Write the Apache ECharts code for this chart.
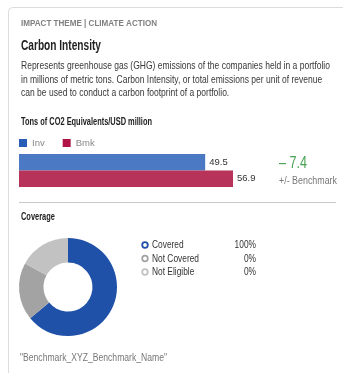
<!DOCTYPE html>
<html>
<head>
<meta charset="utf-8">
<script src="https://cdn.jsdelivr.net/npm/echarts@6/dist/echarts.min.js"></script>
<style>
html,body{margin:0;padding:0;background:#fff;}
#c{width:343px;height:373px;}
</style>
</head>
<body>
<div id="c"></div>
<script>
// ---- data ----
const themeLabel = 'IMPACT THEME | CLIMATE ACTION';
const chartTitle = 'Carbon Intensity';
const descLines = [
  'Represents greenhouse gas (GHG) emissions of the companies held in a portfolio',
  'in millions of metric tons. Carbon Intensity, or total emissions per unit of revenue',
  'can be used to conduct a carbon footprint of a portfolio.'
];
const unitLabel = 'Tons of CO2 Equivalents/USD million';
const barNames = ['Inv', 'Bmk'];
const barValues = [49.5, 56.9];
const diffLabel = '+/- Benchmark';
const coverageTitle = 'Coverage';
const coverageNames = ['Covered', 'Not Covered', 'Not Eligible'];
const coveragePct = ['100%', '0%', '0%'];
const donutValues = [64, 19, 17];
const benchmarkName = '"Benchmark_XYZ_Benchmark_Name"';

// ---- styles ----
const FONT = '"Liberation Sans", Arial, sans-serif';
const barColors = ['#4b79c3', '#b7335a'];
const legendColors = ['#2a5bb5', '#b01446'];
const donutColors = ['#2051a8', '#a3a3a3', '#c2c2c2'];

// condensed look: horizontally scale text to the reference's narrow face
const mctx = document.createElement('canvas').getContext('2d');
function fit(text, font, target) { mctx.font = font; return target / mctx.measureText(text).width; }
function txt(x, y, text, font, fill, sx, extra) {
  return {type:'text', x:x, y:y, originX:0, originY:0, scaleX:sx, scaleY:1,
    style:Object.assign({text:text, font:font, fill:fill, textVerticalAlign:'middle'}, extra || {})};
}

const diff = barValues[0] - barValues[1];
const diffText = (diff < 0 ? '\u2013 ' : '+ ') + Math.abs(diff).toFixed(1);

const fHead = 'bold 8.5px ' + FONT;
const fTitle = 'bold 15px ' + FONT;
const fDesc = '11.5px ' + FONT;
const fSub = 'bold 11.5px ' + FONT;
const fSmall = '11px ' + FONT;
const fBig = '17px ' + FONT;
const sDesc = fit(descLines[0], fDesc, 309);
const sSub = fit(unitLabel, fSub, 131);
const sSmall = fit('Not Covered', fSmall, 47);

const graphics = [
  {type:'rect', shape:{x:8.5, y:7.5, width:400, height:420, r:4}, style:{fill:'#fff', stroke:'#dcdcdc', lineWidth:1}, z:-10},
  txt(21, 24, themeLabel, fHead, '#808080', fit(themeLabel, fHead, 136)),
  txt(21, 46, chartTitle, fTitle, '#222', fit(chartTitle, fTitle, 80)),
  txt(21, 122, unitLabel, fSub, '#222', sSub),
  {type:'line', shape:{x1:19, y1:202.5, x2:336, y2:202.5}, style:{stroke:'#c8c8c8', lineWidth:1}},
  txt(21, 217, coverageTitle, fSub, '#222', sSub),
  txt(279, 163, diffText, fBig, '#46a052', fit(diffText, fBig, 28)),
  txt(279, 181, diffLabel, fSmall, '#777', fit(diffLabel, fSmall, 58)),
  txt(20, 358, benchmarkName, fSmall, '#777', fit(benchmarkName, fSmall, 147))
];
descLines.forEach(function (t, i) {
  graphics.push(txt(21, 66 + i * 13.5, t, fDesc, '#383838', sDesc));
});
coverageNames.forEach(function (n, i) {
  const y = 245 + i * 13.5;
  graphics.push({type:'circle', shape:{cx:145, cy:y, r:2.8}, style:{fill:'#fff', stroke:donutColors[i], lineWidth:1.8}});
  graphics.push(txt(152, y, n, fSmall, '#333', sSmall));
  graphics.push(txt(256, y, coveragePct[i], fSmall, '#333', sSmall, {textAlign:'right'}));
});

const chart = echarts.init(document.getElementById('c'));
chart.setOption({
  animation: false,
  graphic: graphics,
  legend: {
    left: 19, top: 138, padding: 0, itemWidth: 8, itemHeight: 8, itemGap: 18, icon: 'rect',
    textStyle: {fontSize: 9.5, color: '#888', fontFamily: FONT},
    data: barNames.map(function (n, i) { return {name: n, itemStyle: {color: legendColors[i]}}; })
  },
  grid: {left: 19, top: 154, width: 252, height: 33},
  xAxis: {type: 'value', min: 0, max: 67, show: false},
  yAxis: {type: 'category', data: [''], inverse: true, show: false},
  series: barNames.map(function (n, i) {
    return {
      name: n, type: 'bar', data: [barValues[i]],
      barGap: '0%', barCategoryGap: '0%',
      itemStyle: {color: barColors[i]},
      label: {show: true, position: 'right', distance: 4, fontSize: 9.5, color: '#333', fontFamily: FONT,
              formatter: function (p) { return p.value.toFixed(1); }}
    };
  }).concat([{
    type: 'pie', center: [68, 287], radius: [24.5, 49], startAngle: 90, clockwise: true,
    label: {show: false}, labelLine: {show: false}, silent: true,
    data: donutValues.map(function (v, i) { return {name: coverageNames[i], value: v, itemStyle: {color: donutColors[i]}}; })
  }])
});
</script>
</body>
</html>
